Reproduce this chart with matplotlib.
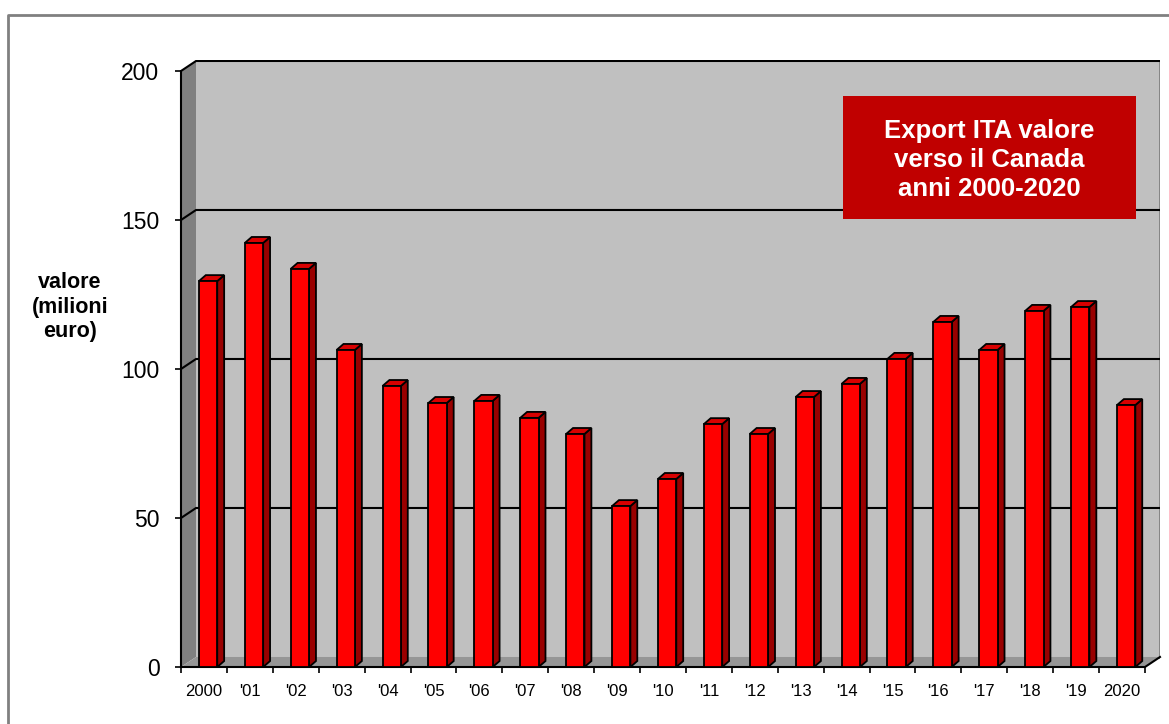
import matplotlib.pyplot as plt
from matplotlib.patches import Polygon, Rectangle
from matplotlib.lines import Line2D

plt.rcParams['font.family'] = ['Liberation Sans', 'DejaVu Sans']

# dati (milioni di euro)
anni = ['2000', "'01", "'02", "'03", "'04", "'05", "'06", "'07", "'08", "'09", "'10",
        "'11", "'12", "'13", "'14", "'15", "'16", "'17", "'18", "'19", '2020']
valori = [129.5, 142.3, 133.6, 106.4, 94.3, 88.6, 89.3, 83.6, 78.2, 54.0, 63.1,
          81.5, 78.2, 90.6, 95.0, 103.4, 115.8, 106.4, 119.5, 120.8, 87.9]
yticks = [0, 50, 100, 150, 200]

n = len(anni)
dxw, dyw = 0.327, 3.36     # profondita pareti
bdx, bdy = 0.15, 2.0       # profondita barre
x_off, bw = 0.39, 0.40

fig = plt.figure(figsize=(11.69, 7.24), dpi=100)
ax = fig.add_axes([181/1169, 57/724, 979/1169, 607/724])
ax.set_xlim(0, n + dxw)
ax.set_ylim(0, 607/2.98)
for s in ['top', 'right', 'bottom']:
    ax.spines[s].set_visible(False)
ax.spines['left'].set_bounds(0, 200)
ax.spines['left'].set_linewidth(1.5)

# pareti 3d
ax.add_patch(Polygon([(0, 0), (dxw, dyw), (dxw, 200 + dyw), (0, 200)],
                     closed=True, fc='#808080', ec='none', zorder=0))
ax.add_patch(Rectangle((dxw, dyw), n, 200, fc='#C0C0C0', ec='none', zorder=0))
ax.add_patch(Polygon([(0, 0), (n, 0), (n + dxw, dyw), (dxw, dyw)],
                     closed=True, fc='#969696', ec='none', zorder=0))
ax.add_line(Line2D([n + dxw, n + dxw], [dyw, 200 + dyw], color='#808080', lw=2, zorder=1))
for v in yticks[1:]:
    ax.add_line(Line2D([0, dxw, n + dxw], [v, v + dyw, v + dyw], color='black', lw=1.5, zorder=1))
ax.add_line(Line2D([0, n, n + dxw], [0, 0, dyw], color='black', lw=1.5, zorder=1, clip_on=False))

# barre
for i, v in enumerate(valori):
    x0 = i + x_off
    x1 = x0 + bw
    ax.add_patch(Polygon([(x1, 0), (x1 + bdx, bdy), (x1 + bdx, v + bdy), (x1, v)],
                         closed=True, fc='#990000', ec='black', lw=1.3, zorder=3))
    ax.add_patch(Polygon([(x0, v), (x0 + bdx, v + bdy), (x1 + bdx, v + bdy), (x1, v)],
                         closed=True, fc='#D80000', ec='black', lw=1.3, zorder=3))
    ax.add_patch(Rectangle((x0, 0), bw, v, fc='#FF0000', ec='black', lw=1.3, zorder=4))

ax.set_yticks(yticks)
ax.tick_params(axis='y', length=4.5, width=1.2, pad=11, labelsize=16.5, direction='out')
ax.set_xticks(range(n + 1))
ax.set_xticklabels([])
ax.set_xticks([i + 0.5 for i in range(n)], minor=True)
ax.set_xticklabels(anni, minor=True)
ax.tick_params(axis='x', which='major', length=4.5, width=1.2, direction='out')
ax.tick_params(axis='x', which='minor', length=0, pad=12, labelsize=12)

fig.text(70/1169, 1 - 307/724, 'valore\n(milioni\neuro)', ha='center', va='center',
         fontsize=15.5, fontweight='bold', linespacing=1.2)

# riquadro titolo
fig.patches.append(Rectangle((843/1169, 1 - 219/724), 293/1169, 123/724,
                             transform=fig.transFigure, fc='#C00000', ec='none', zorder=5))
fig.text(989.5/1169, 1 - 160/724, 'Export ITA valore\nverso il Canada\nanni 2000-2020',
         ha='center', va='center', color='white', fontsize=18.5, fontweight='bold',
         linespacing=1.26, zorder=6)

# bordo
fig.add_artist(Line2D([8/1169, 8/1169, 1], [0, 1 - 15/724, 1 - 15/724],
                      transform=fig.transFigure, color='#808080', lw=2))

fig.savefig('out.png', dpi=100)
